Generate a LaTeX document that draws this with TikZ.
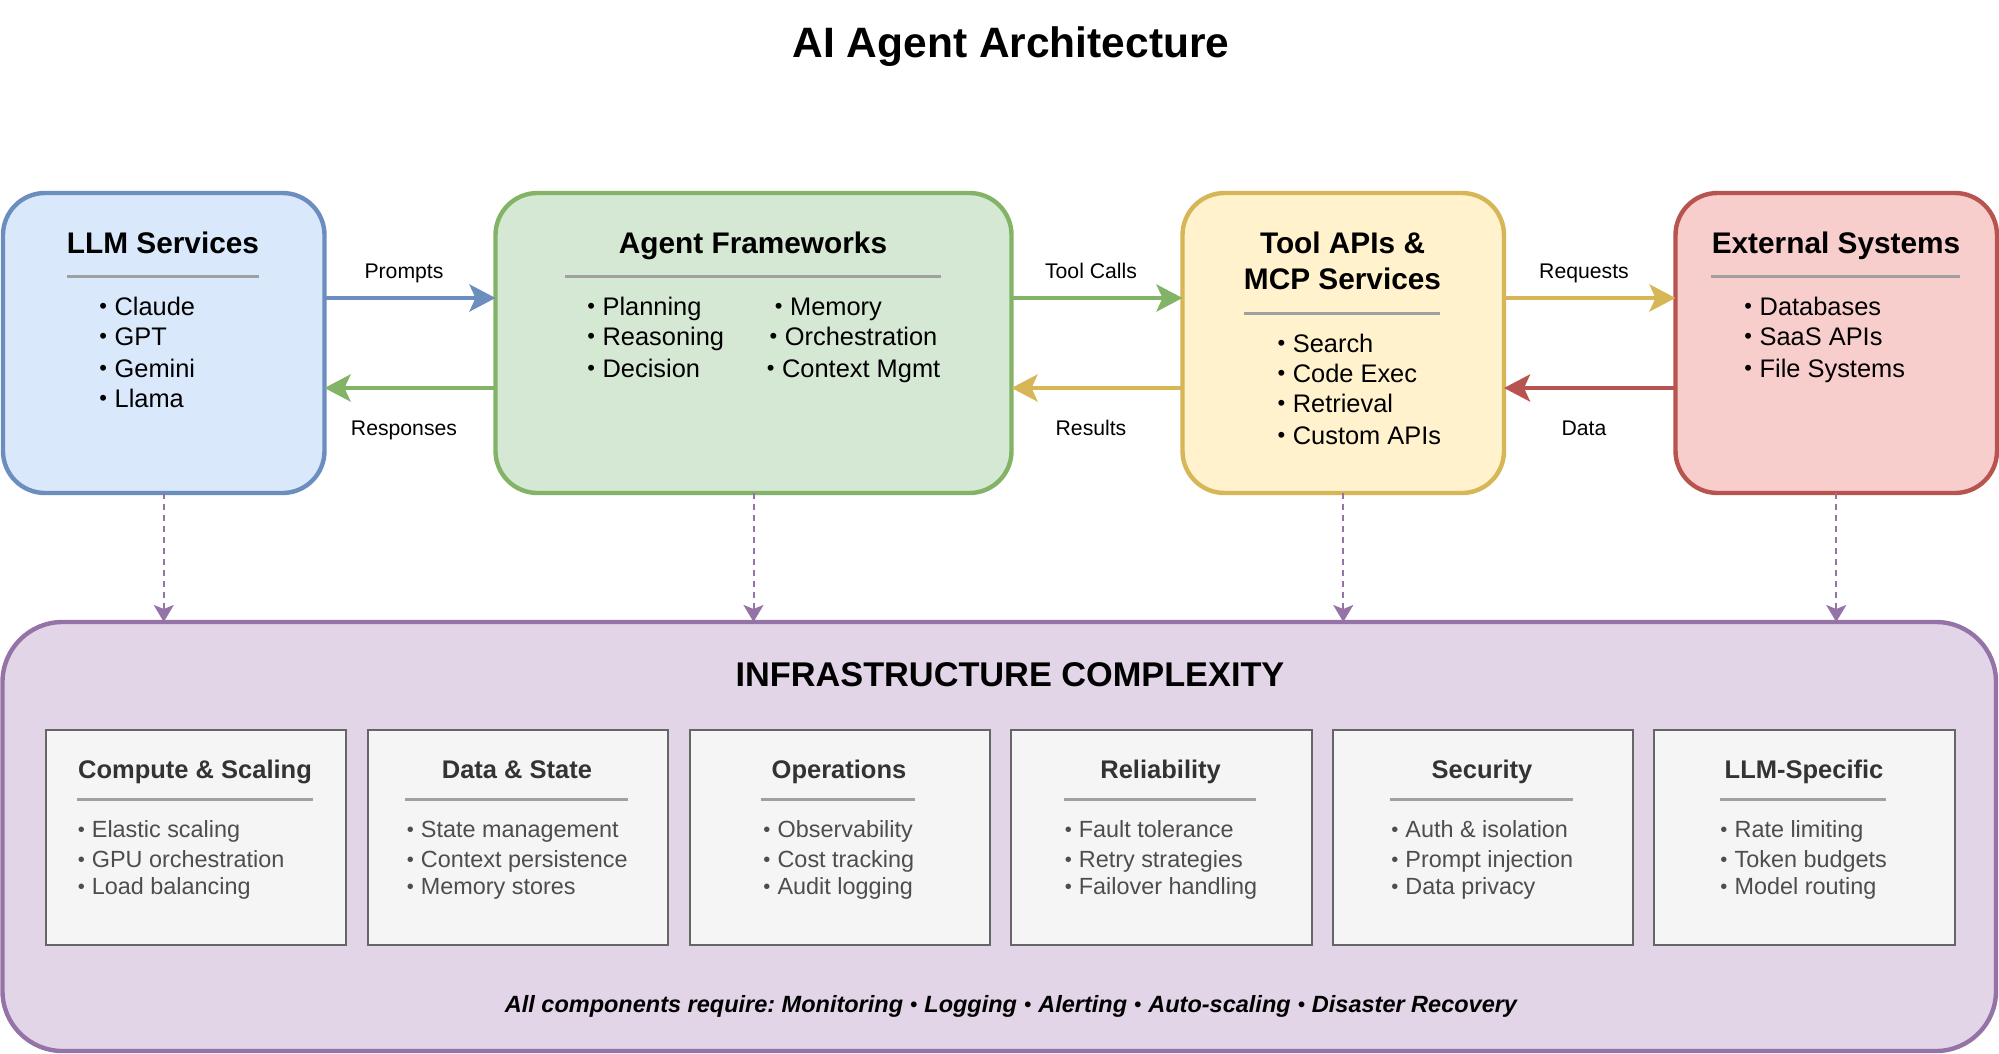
\documentclass[tikz,border=0pt]{standalone}
\usepackage{fontspec}
\setmainfont{Liberation Sans}
\frenchspacing
\usetikzlibrary{arrows.meta,calc}
\definecolor{blueL}{HTML}{6C8EBF}\definecolor{blueF}{HTML}{DAE8FC}
\definecolor{greenL}{HTML}{82B366}\definecolor{greenF}{HTML}{D5E8D4}
\definecolor{yellowL}{HTML}{D6B656}\definecolor{yellowF}{HTML}{FFF2CC}
\definecolor{redL}{HTML}{B85450}\definecolor{redF}{HTML}{F8CECC}
\definecolor{purpleL}{HTML}{9673A6}\definecolor{purpleF}{HTML}{E1D5E7}
\definecolor{cardF}{HTML}{F5F5F5}\definecolor{cardL}{HTML}{666666}
\definecolor{cardT}{HTML}{333333}\definecolor{cardI}{HTML}{4D4D4D}
\definecolor{ruleC}{HTML}{A0A0A0}
\newcommand{\smallbul}{\makebox[.35em][c]{\raisebox{.04em}{\scalebox{.86}{•}}}}
\tikzset{
  x=1pt,y=-1pt,
  colbox/.style n args={3}{draw=#1L,fill=#1F,line width=4.4pt,rounded corners=42pt,anchor=north west,
    inner sep=0pt,outer sep=0pt,minimum width=#2,minimum height=#3},
  card/.style={draw=cardL,fill=cardF,line width=2pt,anchor=north west,inner sep=0pt,outer sep=0pt,
    minimum width=300.4pt,minimum height=215pt},
  headT/.style={anchor=base,inner sep=0pt,font=\bfseries\fontsize{29.8}{34}\selectfont},
  itemT/.style={anchor=base west,inner sep=0pt,font=\fontsize{25.4}{30}\selectfont},
  cardH/.style={anchor=base,inner sep=0pt,text=cardT,font=\bfseries\fontsize{25.5}{30}\selectfont},
  cardI/.style={anchor=base west,inner sep=0pt,text=cardI,font=\fontsize{23.4}{28}\selectfont},
  flowL/.style={anchor=base,inner sep=0pt,font=\fontsize{21.2}{25}\selectfont},
  flow/.style={line width=4.4pt,draw=#1,-{Stealth[length=26pt,width=27pt,inset=6pt,fill=#1]}},
  dep/.style={line width=2pt,draw=purpleL,dash pattern=on 6pt off 5pt,
    -{Stealth[length=17pt,width=20pt,inset=4pt,fill=purpleL,sep=0pt]}},
  rulebig/.style={line width=3pt,draw=ruleC},
}
\begin{document}
\begin{tikzpicture}
\useasboundingbox (0,0) rectangle (1999,1054);
\node[anchor=base,inner sep=0pt,font=\bfseries\fontsize{42.5}{48}\selectfont] (title) at (1011,58) {AI Agent Architecture};

% top row
\node[colbox={blue}{321.5pt}{300pt}] (llm) at (3,193) {};
\node[colbox={green}{516pt}{300pt}] (agent) at (495.5,193) {};
\node[colbox={yellow}{321.5pt}{300pt}] (tool) at (1182.5,193) {};
\node[colbox={red}{321.5pt}{300pt}] (ext) at (1675.5,193) {};
% infrastructure
\node[colbox={purple}{1993.5pt}{429pt},rounded corners=60pt] (infra) at (2.5,622) {};

% box headings
\node[headT] (llmH) at (163,253) {LLM Services};
\node[headT] (agentH) at (753,253) {Agent Frameworks};
\node[headT] (toolH1) at (1342.5,253) {Tool APIs \&};
\node[headT] (toolH2) at (1342.5,289.6) {MCP Services};
\node[headT] (extH) at (1836,253) {External Systems};
\draw[rulebig] (66.5,276) -- (259,276);
\draw[rulebig] (565,276) -- (941,276);
\draw[rulebig] (1244,313) -- (1440,313);
\draw[rulebig] (1711,276) -- (1960,276);

% lists
\foreach \n/\t/\xx/\yy in {
  a/Claude/98.5/315,b/GPT/98.5/345,c/Gemini/98.5/377,d/Llama/98.5/407,
  e/Planning/586.5/315,f/Reasoning/586.5/345,g/Decision/586.5/377,
  h/Memory/774/315,i/Orchestration/768.7/345,j/Context Mgmt/766/377,
  k/Search/1276.7/352,l/Code Exec/1276.7/382,m/Retrieval/1276.7/412,n/Custom APIs/1276.7/444,
  o/Databases/1743.5/315,p/SaaS APIs/1743.5/345,q/File Systems/1743.5/377}
  \node[itemT,name=it\n] at (\xx,\yy) {\smallbul{} \t};

% horizontal flows
\draw[flow=blueL] ([yshift=45pt]llm.east) -- ([yshift=45pt]agent.west);
\draw[flow=greenL] ([yshift=-45pt]agent.west) -- ([yshift=-45pt]llm.east);
\draw[flow=greenL] ([yshift=45pt]agent.east) -- ([yshift=45pt]tool.west);
\draw[flow=yellowL] ([yshift=-45pt]tool.west) -- ([yshift=-45pt]agent.east);
\draw[flow=yellowL] ([yshift=45pt]tool.east) -- ([yshift=45pt]ext.west);
\draw[flow=redL] ([yshift=-45pt]ext.west) -- ([yshift=-45pt]tool.east);
\node[flowL] (lPrompts) at (404,278.5) {Prompts};
\node[flowL] (lResponses) at (404,435) {Responses};
\node[flowL] (lTool) at (1091,278.5) {Tool Calls};
\node[flowL] (lResults) at (1091,435) {Results};
\node[flowL] (lRequests) at (1584,278.5) {Requests};
\node[flowL] (lData) at (1584,435) {Data};

% dependencies
\foreach \s in {llm,agent,tool,ext}
  \draw[dep] (\s.south) -- (\s.south |- infra.north);

\node[anchor=base,inner sep=0pt,font=\bfseries\fontsize{34.3}{40}\selectfont] (infraT) at (1010,686) {INFRASTRUCTURE COMPLEXITY};

% cards
\foreach \n/\xx in {c1/46,c2/368,c3/689.6,c4/1011.2,c5/1332.8,c6/1654.4}
  \node[card] (\n) at (\xx,730) {};
\node[cardH] (c1H) at (195,778.5) {Compute \& Scaling};
\node[cardH] (c2H) at (517,778.5) {Data \& State};
\node[cardH] (c3H) at (839,778.5) {Operations};
\node[cardH] (c4H) at (1160.6,778.5) {Reliability};
\node[cardH] (c5H) at (1482,778.5) {Security};
\node[cardH] (c6H) at (1804,778.5) {LLM-Specific};
\draw[rulebig] (77,799) -- (312.5,799);
\draw[rulebig] (405,799) -- (628,799);
\draw[rulebig] (761,799) -- (915,799);
\draw[rulebig] (1064,799) -- (1256,799);
\draw[rulebig] (1390,799) -- (1573,799);
\draw[rulebig] (1720,799) -- (1886,799);

\foreach \n/\t/\xx/\yy in {
  a/Elastic scaling/77/837,b/GPU orchestration/77/867,c/Load balancing/77/894.5,
  d/State management/406/837,e/Context persistence/406/867,f/Memory stores/406/894.5,
  g/Observability/762.7/837,h/Cost tracking/762.7/867,i/Audit logging/762.7/894.5,
  j/Fault tolerance/1064/837,k/Retry strategies/1064/867,l/Failover handling/1064/894.5,
  m/Auth \& isolation/1390.5/837,n/Prompt injection/1390.5/867,o/Data privacy/1390.5/894.5,
  p/Rate limiting/1719.7/837,q/Token budgets/1719.7/867,r/Model routing/1719.7/894.5}
  \node[cardI,name=ci\n] at (\xx,\yy) {\smallbul{} \t};

\node[anchor=base,inner sep=0pt,font=\bfseries\itshape\fontsize{23.5}{28}\selectfont] (foot) at (1011,1012.7)
  {All components require: Monitoring \smallbul{} Logging \smallbul{} Alerting \smallbul{} Auto-scaling \smallbul{} Disaster Recovery};
\end{tikzpicture}
\end{document}
